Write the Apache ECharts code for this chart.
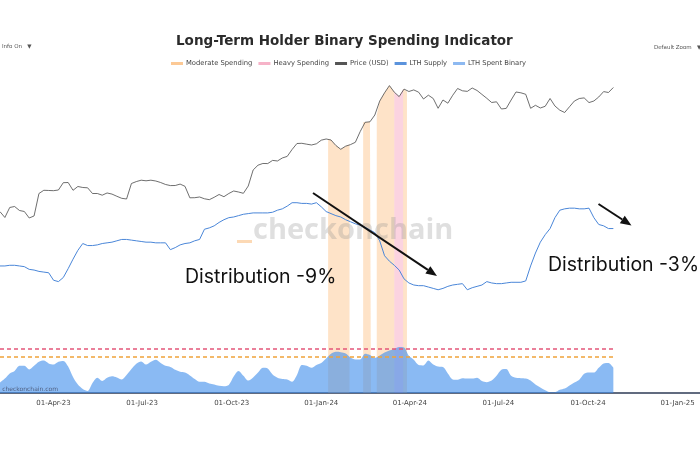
<!DOCTYPE html>
<html>
<head>
<meta charset="utf-8">
<script src="https://cdn.jsdelivr.net/npm/echarts@6/dist/echarts.min.js"></script>
<style>
  html, body { margin: 0; padding: 0; background: #fff; }
  #main { width: 700px; height: 450px; }
</style>
</head>
<body>
<div id="main"></div>
<script>
  // samples every 5 days starting 2023-02-05
  const startDate = '2023-02-05';
  const stepDays = 5;
  const axisStart = '2023-02-05';
  const axisEnd = '2025-01-24';

  // BTC price, USD
  const price = [
    22780, 21610, 23670, 23880, 23030, 22820, 21510, 21910, 26880, 27680,
    27630, 27580, 27750, 29660, 29710, 27680, 28650, 28390, 28310, 26880,
    26880, 26470, 27010, 26740, 26210, 25730, 25570, 29440, 29960, 30340,
    30180, 30340, 30120, 29710, 29180, 28890, 28910, 29280, 28700, 25850,
    25870, 26040, 25620, 25410, 25970, 26640, 26110, 26880, 27500, 27250,
    26930, 28780, 33290, 34780, 35330, 35300, 36330, 36140, 37140, 37680,
    40120, 42370, 42450, 42110, 41800, 42260, 43670, 44150, 43750, 41610,
    40200, 41350, 41950, 42840, 47260, 51390, 51630, 54920, 62330, 67220,
    71770, 67590, 64940, 69520, 68020, 69010, 67590, 63530, 65770, 63820,
    58380, 62960, 61150, 65710, 69910, 68460, 68090, 70220, 68650, 66250,
    63940, 61540, 61930, 58010, 58330, 62960, 67710, 67220, 66310, 58380,
    59990, 58540, 59450, 63820, 59610, 57380, 56190, 59230, 62390, 63820,
    64170, 61490, 62390, 64700, 67960, 67410, 70550
  ];

  // long-term holder supply, million BTC
  const lthSupply = [
    13.93, 13.93, 13.94, 13.94, 13.93, 13.92, 13.88, 13.87, 13.85, 13.84,
    13.83, 13.72, 13.70, 13.76, 13.89, 14.03, 14.16, 14.26, 14.23, 14.23,
    14.24, 14.26, 14.27, 14.28, 14.30, 14.32, 14.32, 14.31, 14.30, 14.29,
    14.28, 14.28, 14.27, 14.27, 14.27, 14.17, 14.20, 14.24, 14.26, 14.27,
    14.30, 14.32, 14.47, 14.49, 14.52, 14.57, 14.61, 14.64, 14.65, 14.67,
    14.69, 14.70, 14.71, 14.71, 14.71, 14.71, 14.72, 14.75, 14.77, 14.81,
    14.86, 14.86, 14.85, 14.85, 14.84, 14.86, 14.80, 14.73, 14.70, 14.67,
    14.65, 14.61, 14.58, 14.55, 14.53, 14.50, 14.46, 14.42, 14.30, 14.08,
    14.00, 13.94, 13.87, 13.74, 13.68, 13.65, 13.64, 13.64, 13.62, 13.60,
    13.58, 13.60, 13.63, 13.65, 13.66, 13.67, 13.58, 13.61, 13.63, 13.65,
    13.70, 13.68, 13.67, 13.67, 13.68, 13.69, 13.69, 13.69, 13.71, 13.93,
    14.12, 14.28, 14.39, 14.48, 14.64, 14.75, 14.77, 14.78, 14.78, 14.77,
    14.77, 14.78, 14.64, 14.54, 14.52, 14.48, 14.48
  ];

  // LTH spent binary, 14-day sum
  const spentBinary = [
    2.6, 3.6, 4.9, 5.5, 6.8, 6.8, 5.9, 6.8, 7.8, 8.1,
    7.4, 7.1, 7.8, 8.0, 6.6, 4.0, 2.1, 1.0, 0.5, 2.5,
    3.8, 3.0, 3.8, 4.2, 3.9, 3.4, 4.5, 6.0, 7.3, 7.9,
    7.1, 7.8, 8.3, 7.5, 6.8, 6.5, 5.8, 5.3, 5.1, 4.4,
    3.5, 2.8, 2.8, 2.4, 2.1, 1.8, 1.7, 2.0, 4.1, 5.5,
    4.3, 3.1, 3.9, 5.1, 6.3, 6.1, 4.6, 3.8, 3.5, 3.4,
    2.8, 4.5, 7.0, 6.8, 6.3, 7.0, 7.5, 8.6, 9.8, 10.3,
    10.2, 9.9, 8.9, 8.4, 8.4, 9.8, 9.5, 8.8, 9.4, 10.1,
    10.6, 11.0, 11.5, 11.4, 9.3, 8.3, 7.0, 6.9, 8.1, 7.1,
    6.6, 6.5, 4.9, 3.4, 3.3, 3.7, 3.6, 3.6, 3.8, 3.0,
    2.7, 3.1, 4.3, 5.8, 6.0, 4.3, 3.8, 3.7, 3.6, 3.1,
    2.1, 1.4, 0.7, 0.2, 0.2, 0.8, 1.1, 1.9, 2.6, 3.3,
    4.8, 5.1, 5.1, 6.3, 7.4, 7.5, 6.3
  ];

  const moderateLevel = 9;
  const heavyLevel = 11;

  const moderateRanges = [
    ['2024-01-08', '2024-01-30'],
    ['2024-02-13', '2024-02-21'],
    ['2024-02-27', '2024-03-16'],
    ['2024-03-25', '2024-03-29']
  ];
  const heavyRanges = [
    ['2024-03-16', '2024-03-25']
  ];

  const tickDates = ['2023-04-01', '2023-07-01', '2023-10-01', '2024-01-01',
    '2024-04-01', '2024-07-01', '2024-10-01', '2025-01-01'];
  const tickLabels = ['01-Apr-23', '01-Jul-23', '01-Oct-23', '01-Jan-24',
    '01-Apr-24', '01-Jul-24', '01-Oct-24', '01-Jan-25'];

  function ts(str, addDays) {
    const p = str.split('-').map(Number);
    return new Date(p[0], p[1] - 1, p[2] + (addDays || 0)).getTime();
  }

  const times = price.map((_, i) => ts(startDate, i * stepDays));
  const tickTimes = tickDates.map(d => ts(d));
  const pair = arr => arr.map((v, i) => [times[i], v]);
  const nearest = t => Math.round((t - times[0]) / (stepDays * 86400000));

  // price filled down to the bottom only inside spending periods
  function bandData(ranges) {
    const out = [];
    ranges.forEach(r => {
      const a = ts(r[0]), b = ts(r[1]);
      out.push([a, price[nearest(a)]]);
      times.forEach((t, i) => {
        if (t > a && t < b) out.push([t, price[i]]);
      });
      out.push([b, price[nearest(b)]]);
      out.push([b + 43200000, null]);
    });
    return out;
  }

  function arrow(x1, y1, x2, y2) {
    const len = Math.hypot(x2 - x1, y2 - y1);
    const ux = (x2 - x1) / len, uy = (y2 - y1) / len;
    const bx = x2 - ux * 11, by = y2 - uy * 11;
    return [
      {type: 'line', z: 100, shape: {x1: x1, y1: y1, x2: bx, y2: by},
        style: {stroke: '#111', lineWidth: 2}},
      {type: 'polygon', z: 100,
        shape: {points: [[x2, y2], [bx - uy * 4.5, by + ux * 4.5], [bx + uy * 4.5, by - ux * 4.5]]},
        style: {fill: '#111'}}
    ];
  }

  const lastT = times[times.length - 1];
  const myChart = echarts.init(document.getElementById('main'));

  let option = {
    animation: false,
    backgroundColor: '#fff',
    title: {
      text: 'Long-Term Holder Binary Spending Indicator',
      left: 171,
      top: 29,
      textStyle: {fontFamily: 'DejaVu Sans', fontWeight: 'bold', fontSize: 13.5, color: '#2b2b2b'}
    },
    legend: {
      top: 55,
      left: 166,
      icon: 'rect',
      itemWidth: 12,
      itemHeight: 3,
      itemGap: 6,
      data: ['Moderate Spending', 'Heavy Spending', 'Price (USD)', 'LTH Supply', 'LTH Spent Binary'],
      textStyle: {fontFamily: 'DejaVu Sans', fontSize: 6.8, color: '#444', padding: [0, 0, 0, -2]}
    },
    grid: {left: 0, right: 0, top: 75, bottom: 57},
    xAxis: {
      type: 'value',
      min: ts(axisStart),
      max: ts(axisEnd),
      axisLine: {onZero: false, lineStyle: {color: '#2d3a55', width: 1.5}},
      axisTick: {show: false},
      splitLine: {show: false},
      axisLabel: {
        customValues: tickTimes,
        formatter: v => tickLabels[tickTimes.indexOf(v)] || '',
        fontFamily: 'DejaVu Sans',
        fontSize: 7,
        color: '#444',
        margin: 7
      }
    },
    yAxis: [
      {type: 'log', min: 4374, max: 79040, show: false, splitLine: {show: false}},
      {type: 'value', min: 12.062, max: 16.738, show: false, splitLine: {show: false}},
      {type: 'value', min: 0, max: 79.5, show: false, splitLine: {show: false}}
    ],
    series: [
      {
        name: 'Moderate Spending',
        type: 'line',
        yAxisIndex: 0,
        z: 1,
        showSymbol: false,
        connectNulls: false,
        data: bandData(moderateRanges),
        itemStyle: {color: '#fcc995'},
        lineStyle: {width: 0},
        areaStyle: {color: 'rgba(251,176,100,0.5)', origin: 'start'}
      },
      {
        name: 'Heavy Spending',
        type: 'line',
        yAxisIndex: 0,
        z: 1,
        showSymbol: false,
        connectNulls: false,
        data: bandData(heavyRanges),
        itemStyle: {color: '#f6b3c8'},
        lineStyle: {width: 0},
        areaStyle: {color: 'rgba(245,140,175,0.55)', origin: 'start'}
      },
      {
        name: 'LTH Spent Binary',
        type: 'line',
        yAxisIndex: 2,
        z: 2,
        smooth: 0.3,
        showSymbol: false,
        data: pair(spentBinary),
        itemStyle: {color: '#8db9f1'},
        lineStyle: {width: 0},
        areaStyle: {color: 'rgba(60,140,235,0.6)', opacity: 1}
      },
      {
        name: 'Price (USD)',
        type: 'line',
        yAxisIndex: 0,
        z: 3,
        showSymbol: false,
        data: pair(price),
        itemStyle: {color: '#555'},
        lineStyle: {color: '#4a4a4a', width: 0.8}
      },
      {
        name: 'LTH Supply',
        type: 'line',
        yAxisIndex: 1,
        z: 3,
        showSymbol: false,
        data: pair(lthSupply),
        itemStyle: {color: '#5b93dc'},
        lineStyle: {color: '#4a86d8', width: 1}
      },
      {
        name: 'Heavy level',
        type: 'line',
        yAxisIndex: 2,
        z: 3,
        showSymbol: false,
        data: [[times[0], heavyLevel], [lastT, heavyLevel]],
        lineStyle: {color: '#e4577a', width: 1.5, type: [4, 3]}
      },
      {
        name: 'Moderate level',
        type: 'line',
        yAxisIndex: 2,
        z: 3,
        showSymbol: false,
        data: [[times[0], moderateLevel], [lastT, moderateLevel]],
        lineStyle: {color: '#f0a33a', width: 1.5, type: [4, 3]}
      }
    ],
    graphic: [
      {type: 'rect', z: 50, shape: {x: 237, y: 240, width: 15, height: 3},
        style: {fill: 'rgba(250,185,120,0.55)'}},
      {type: 'text', z: 50, x: 253, y: 231,
        style: {text: 'checkonchain', font: 'bold 29px "Open Sans"', fill: 'rgba(140,140,140,0.28)',
          textVerticalAlign: 'middle'}},
      {type: 'text', z: 100, x: 185, y: 277,
        style: {text: 'Distribution -9%', font: '19.5px Inter', fill: '#111', textVerticalAlign: 'middle'}},
      {type: 'text', z: 100, x: 548, y: 265,
        style: {text: 'Distribution -3%', font: '19.5px Inter', fill: '#111', textVerticalAlign: 'middle'}},
      ...arrow(313, 193, 437, 276),
      ...arrow(598.5, 204, 631.5, 225.5),
      {type: 'text', x: 2, y: 47,
        style: {text: 'Info On   \u25BC', font: '5.5px "DejaVu Sans"', fill: '#555', textVerticalAlign: 'middle'}},
      {type: 'text', x: 654, y: 48,
        style: {text: 'Default Zoom   \u25BC', font: '5.5px "DejaVu Sans"', fill: '#555', textVerticalAlign: 'middle'}},
      {type: 'text', z: 60, x: 58, y: 389,
        style: {text: 'Source: checkonchain.com', font: '6px "DejaVu Sans"', fill: '#4f5f80',
          textAlign: 'right', textVerticalAlign: 'middle'}}
    ]
  };

  myChart.setOption(option);
</script>
</body>
</html>
